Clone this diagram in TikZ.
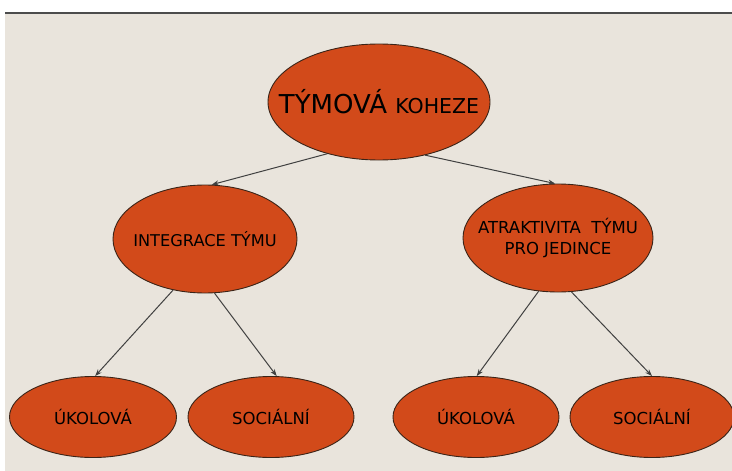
\documentclass[tikz,border=0pt]{standalone}
\usepackage{fontspec}
\setmainfont{DejaVu Sans}
\usetikzlibrary{shapes.geometric,arrows.meta}
\definecolor{bg}{HTML}{E9E4DC}
\definecolor{fillor}{HTML}{D24A1A}
\definecolor{edge}{HTML}{3A2418}
\tikzset{
  oval/.style={ellipse, draw=edge, line width=0.9pt, fill=fillor, inner sep=0pt},
  lbl/.style={inner sep=0pt, align=center, text=black},
  conn/.style={draw=black!75, line width=1pt, -{Stealth[length=7pt,width=5pt]}},
}
\begin{document}
\begin{tikzpicture}[x=1pt,y=-1pt]
\useasboundingbox (0,0) rectangle (732,471);
\fill[white] (0,0) rectangle (732,471);
\fill[bg] (5,13) rectangle (732,471);
\draw[black!70, line width=1.3pt] (5,13) -- (732,13);
\node[oval, minimum width=222pt, minimum height=116pt] (top) at (379,102) {};
\node[lbl] (topt) at (top.center) {\fontsize{26}{30}\selectfont TÝMOVÁ {\fontsize{20.5}{24}\selectfont KOHEZE}};
\node[oval, minimum width=184pt, minimum height=108pt] (L) at (205,239) {};
\node[lbl, font=\fontsize{16.2}{19}\selectfont] (Lt) at (L.center) {INTEGRACE TÝMU};
\node[oval, minimum width=190pt, minimum height=108pt] (R) at (558,238) {};
\node[lbl, font=\fontsize{16.5}{21}\selectfont] (Rt) at (R.center) {ATRAKTIVITA\ \ TÝMU\\ PRO JEDINCE};
\node[oval, minimum width=167pt, minimum height=81pt] (b1) at (93,417) {};
\node[lbl, font=\fontsize{16.5}{19}\selectfont] (b1t) at (b1.center) {ÚKOLOVÁ};
\node[oval, minimum width=166pt, minimum height=81pt] (b2) at (271,417) {};
\node[lbl, font=\fontsize{16.5}{19}\selectfont] (b2t) at (b2.center) {SOCIÁLNÍ};
\node[oval, minimum width=166pt, minimum height=81pt] (b3) at (476,417) {};
\node[lbl, font=\fontsize{16.5}{19}\selectfont] (b3t) at (b3.center) {ÚKOLOVÁ};
\node[oval, minimum width=164pt, minimum height=81pt] (b4) at (652,417) {};
\node[lbl, font=\fontsize{16.5}{19}\selectfont] (b4t) at (b4.center) {SOCIÁLNÍ};
\draw[conn] (top.225) -- (L.83);
\draw[conn] (top.311) -- (R.93);
\draw[conn] (L.238) -- (b1.87);
\draw[conn] (L.280) -- (b2.82);
\draw[conn] (R.250) -- (b3.89);
\draw[conn] (R.284) -- (b4.90);
\end{tikzpicture}
\end{document}
